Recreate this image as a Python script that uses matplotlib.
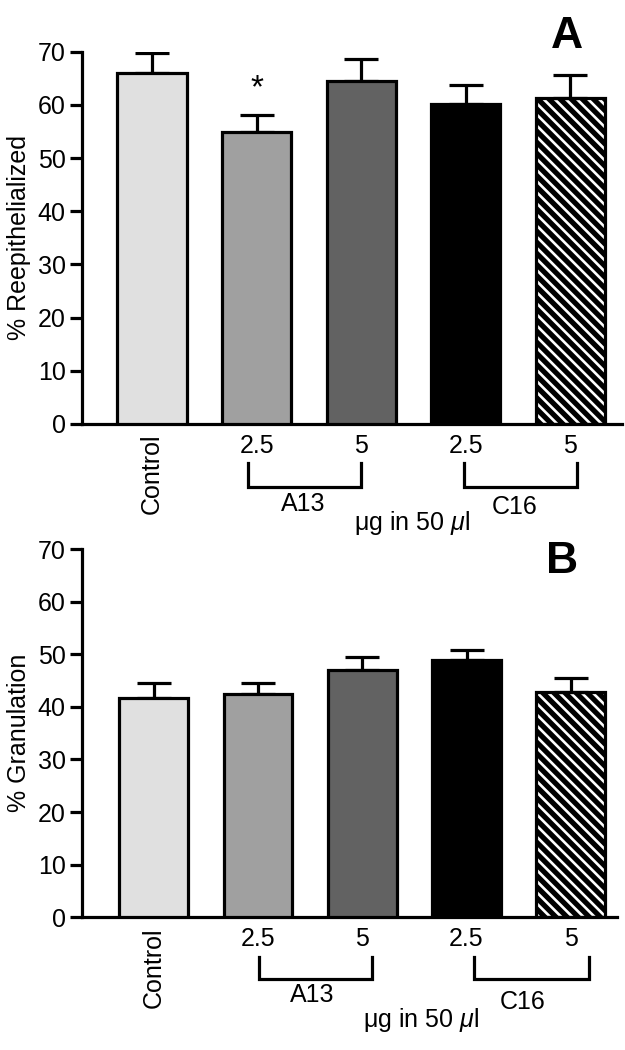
import matplotlib
matplotlib.use("Agg")
import matplotlib.pyplot as plt
import numpy as np

plt.rcParams['font.family'] = ['Liberation Sans', 'DejaVu Sans']
plt.rcParams['mathtext.fontset'] = 'custom'
plt.rcParams['mathtext.rm'] = 'Liberation Sans'
plt.rcParams['mathtext.it'] = 'Liberation Sans:italic'
plt.rcParams['hatch.linewidth'] = 1.9

# ---- data ----
categories = ['Control', '2.5', '5', '2.5', '5']
reepi_mean = [65.9, 54.9, 64.5, 60.1, 61.2]
reepi_err = [3.8, 3.2, 4.1, 3.6, 4.4]
gran_mean = [41.7, 42.4, 47.0, 48.9, 42.9]
gran_err = [2.8, 2.1, 2.4, 2.0, 2.6]
bar_colors = ['#e0e0e0', '#a0a0a0', '#626262', '#000000', '#000000']
bar_hatch = [None, None, None, None, '\\\\\\']
groups = ['A13', 'C16']
dose_unit = r'μg in 50 $\mu$l'
ylabels = ['% Reepithelialized', '% Granulation']
panel_letters = ['A', 'B']
yticks = [0, 10, 20, 30, 40, 50, 60, 70]

fig = plt.figure(figsize=(6.25, 10.5), dpi=100)
axA = fig.add_axes([0.1307, 0.5962, 0.864, 0.3546])
axB = fig.add_axes([0.1307, 0.1264, 0.856, 0.3507])

LW = 2.3
panels = [
    dict(ax=axA, mean=reepi_mean, err=reepi_err, xlim=(-0.672, 4.49),
         br=[(0.92, 2.0), (2.98, 4.06)], by=(-0.105, -0.169),
         gl=[(1.45, -0.215), (3.47, -0.222)], mu=(2.49, -0.266), let_y=1.01),
    dict(ax=axB, mean=gran_mean, err=gran_err, xlim=(-0.69, 4.44),
         br=[(1.01, 2.09), (3.07, 4.17)], by=(-0.107, -0.1675),
         gl=[(1.52, -0.211), (3.54, -0.229)], mu=(2.56, -0.279), let_y=0.935),
]

for i, p in enumerate(panels):
    ax = p['ax']
    x = np.arange(len(categories))
    for j in range(len(categories)):
        if bar_hatch[j]:
            ax.bar(x[j], p['mean'][j], width=0.66, color='black', edgecolor='white',
                   hatch=bar_hatch[j], linewidth=0, zorder=2)
            ax.bar(x[j], p['mean'][j], width=0.66, facecolor='none', edgecolor='black',
                   linewidth=LW, zorder=3)
        else:
            ax.bar(x[j], p['mean'][j], width=0.66, color=bar_colors[j], edgecolor='black',
                   linewidth=LW, zorder=3)
    ax.errorbar(x, p['mean'], yerr=[np.zeros(len(x)), p['err']], fmt='none',
                ecolor='black', elinewidth=LW, capsize=12, capthick=LW, zorder=2)
    ax.set_xlim(*p['xlim'])
    ax.set_ylim(0, 70)
    ax.set_yticks(yticks)
    ax.tick_params(axis='y', length=8.5, width=LW, labelsize=18, pad=3)
    ax.set_xticks(x)
    ax.set_xticklabels(categories)
    ax.tick_params(axis='x', length=0, labelsize=18, pad=7)
    ax.get_xticklabels()[0].set_rotation(90)
    for s in ['top', 'right']:
        ax.spines[s].set_visible(False)
    for s in ['left', 'bottom']:
        ax.spines[s].set_linewidth(LW)
    ax.set_ylabel(ylabels[i], fontsize=18)
    ax.yaxis.set_label_coords(-0.094, 0.5)

    tr = ax.get_xaxis_transform()
    y0, y1 = p['by']
    for (xa, xb) in p['br']:
        ax.plot([xa, xa, xb, xb], [y0, y1, y1, y0], color='black', lw=LW,
                transform=tr, clip_on=False, solid_joinstyle='miter')
    for g, (gx, gy) in zip(groups, p['gl']):
        ax.text(gx, gy, g, transform=tr, ha='center', va='center', fontsize=18)
    ax.text(p['mu'][0], p['mu'][1], dose_unit, transform=tr, ha='center', va='center',
            fontsize=18)
    ax.text(0.898, p['let_y'], panel_letters[i], transform=ax.transAxes, ha='center',
            va='baseline', fontsize=32, fontweight='bold')

axA.text(1, 61.5, '*', ha='center', va='baseline', fontsize=24)

fig.savefig('out.png', dpi=100)
